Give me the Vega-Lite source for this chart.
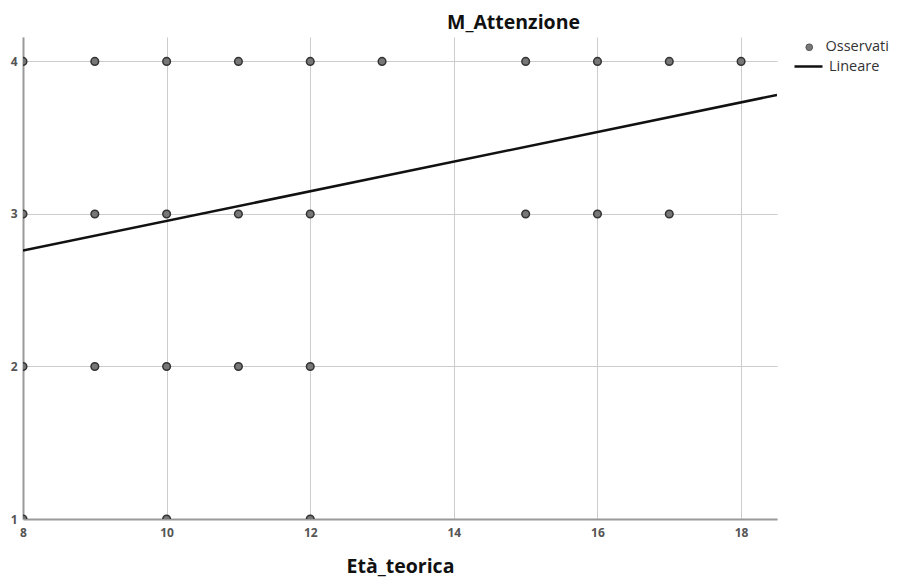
{
  "$schema": "https://vega.github.io/schema/vega-lite/v6.json",
  "width": 754,
  "height": 482,
  "autosize": "none",
  "padding": {"left": 23, "top": 37, "right": 125, "bottom": 58},
  "background": "white",
  "title": {
    "text": "M_Attenzione",
    "anchor": "start",
    "frame": "group",
    "dx": 424,
    "offset": 4,
    "font": "Open Sans",
    "fontSize": 19.5,
    "fontWeight": "bold",
    "color": "#111111"
  },
  "datasets": {
    "obs": [
      {"eta": 8, "att": 4}, {"eta": 9, "att": 4}, {"eta": 10, "att": 4}, {"eta": 11, "att": 4},
      {"eta": 12, "att": 4}, {"eta": 13, "att": 4}, {"eta": 15, "att": 4}, {"eta": 16, "att": 4},
      {"eta": 17, "att": 4}, {"eta": 18, "att": 4},
      {"eta": 8, "att": 3}, {"eta": 9, "att": 3}, {"eta": 10, "att": 3}, {"eta": 11, "att": 3},
      {"eta": 12, "att": 3}, {"eta": 15, "att": 3}, {"eta": 16, "att": 3}, {"eta": 17, "att": 3},
      {"eta": 8, "att": 2}, {"eta": 9, "att": 2}, {"eta": 10, "att": 2}, {"eta": 11, "att": 2},
      {"eta": 12, "att": 2},
      {"eta": 8, "att": 1}, {"eta": 10, "att": 1}, {"eta": 12, "att": 1}
    ],
    "fit": [
      {"eta": 8, "att": 2.76},
      {"eta": 18.5, "att": 3.78}
    ]
  },
  "layer": [
    {
      "data": {"name": "obs"},
      "mark": {"type": "point", "filled": true, "clip": true, "stroke": "#333333", "strokeWidth": 1.5, "size": 58, "opacity": 1},
      "encoding": {
        "x": {
          "field": "eta", "type": "quantitative",
          "scale": {"domain": [8, 18.5], "nice": false, "zero": false},
          "axis": {
            "title": "Età_teorica",
            "values": [8, 10, 12, 14, 16, 18],
            "format": "d",
            "ticks": false,
            "labelPadding": 8,
            "labelFlush": false,
            "titlePadding": 19
          }
        },
        "y": {
          "field": "att", "type": "quantitative",
          "scale": {"domain": [1, 4.16], "nice": false, "zero": false},
          "axis": {
            "title": null,
            "values": [1, 2, 3, 4],
            "format": "d",
            "ticks": false,
            "labelPadding": 6,
            "labelFlush": false
          }
        },
        "fill": {
          "datum": "Osservati",
          "scale": {"domain": ["Osservati"], "range": ["#777777"]},
          "legend": {
            "title": null,
            "orient": "none",
            "legendX": 779,
            "legendY": 3,
            "symbolType": "circle",
            "symbolSize": 45,
            "symbolStrokeColor": "#555555",
            "symbolStrokeWidth": 1,
            "symbolOpacity": 1,
            "labelOffset": 9,
            "labelFontSize": 14.5,
            "labelFont": "Open Sans",
            "labelColor": "#333333"
          }
        }
      }
    },
    {
      "data": {"name": "fit"},
      "mark": {"type": "line", "clip": true, "strokeWidth": 2.5},
      "encoding": {
        "x": {"field": "eta", "type": "quantitative"},
        "y": {"field": "att", "type": "quantitative"},
        "stroke": {
          "datum": "Lineare",
          "scale": {"domain": ["Lineare"], "range": ["#111111"]},
          "legend": {
            "title": null,
            "orient": "none",
            "legendX": 770,
            "legendY": 14,
            "symbolType": "stroke",
            "symbolSize": 784,
            "symbolStrokeWidth": 2.5,
            "labelOffset": 5,
            "labelFontSize": 14.5,
            "labelFont": "Open Sans",
            "labelColor": "#333333"
          }
        }
      }
    }
  ],
  "config": {
    "view": {"stroke": null},
    "axis": {
      "domainColor": "#999999",
      "domainWidth": 2,
      "gridColor": "#cccccc",
      "gridWidth": 1,
      "labelFont": "Open Sans",
      "labelFontSize": 12,
      "labelColor": "#555555",
      "labelFontWeight": "bold",
      "titleFont": "Open Sans",
      "titleFontSize": 19.5,
      "titleFontWeight": "bold",
      "titleColor": "#111111"
    }
  }
}
